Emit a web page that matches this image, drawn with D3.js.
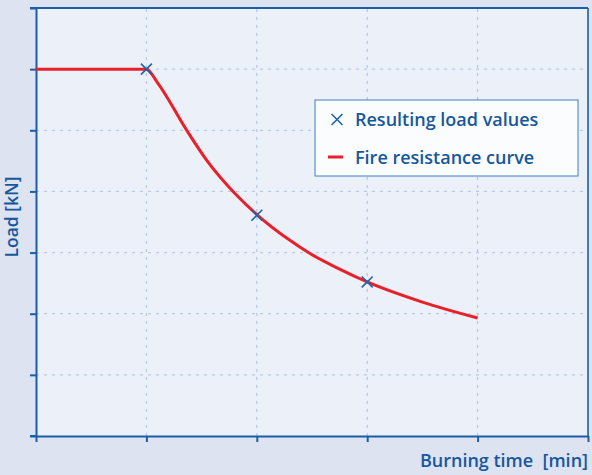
<!DOCTYPE html>
<html>
<head>
<meta charset="utf-8">
<script src="https://cdn.jsdelivr.net/npm/d3@7"></script>
<style>
  body { margin: 0; background: #dde3f0; }
  text { font-family: "Open Sans", "Noto Sans", sans-serif; fill: #16589b; font-weight: 600; }
</style>
</head>
<body>
<svg id="chart" width="592" height="475"></svg>
<script>
// burning time (steps) vs load
const curveX = [0, 1, 1.1, 1.365, 1.55, 1.8, 2.008, 2.3, 2.467, 2.75, 3.0, 3.5, 4.0];
const curveY = [6, 6, 5.78, 5.0, 4.5, 3.97, 3.61, 3.2, 3.0, 2.73, 2.52, 2.19, 1.93];
const markX = [1, 2, 3];
const markY = [6, 3.61, 2.52];
const xTicks = [0, 1, 2, 3, 4, 5];
const yTicks = [0, 1, 2, 3, 4, 5, 6, 7];
const legendNames = ['Resulting load values', 'Fire resistance curve'];

const svg = d3.select('#chart');
const blue = '#1a5fa5';
const x = d3.scaleLinear().domain([0, 5]).range([36, 588]);
const y = d3.scaleLinear().domain([0, 7]).range([436, 8]);

svg.append('rect')
  .attr('width', 592).attr('height', 475).attr('fill', '#dde3f0');
svg.append('rect')
  .attr('x', x(0)).attr('y', y(7))
  .attr('width', x(5) - x(0)).attr('height', y(0) - y(7))
  .attr('fill', '#ecf0f9');

// grid
const grid = svg.append('g')
  .attr('stroke', '#b9c9e6').attr('stroke-width', 1.3).attr('stroke-dasharray', '3,5');
grid.selectAll('.gx')
  .data(xTicks.slice(1, -1))
  .join('line')
    .attr('x1', d => x(d)).attr('x2', d => x(d))
    .attr('y1', y(0)).attr('y2', y(7));
grid.selectAll('.gy')
  .data(yTicks.slice(1, -1))
  .join('line')
    .attr('y1', d => y(d)).attr('y2', d => y(d))
    .attr('x1', x(0)).attr('x2', x(5));

// right border
svg.append('line')
  .attr('x1', x(5)).attr('x2', x(5)).attr('y1', y(7)).attr('y2', y(0))
  .attr('stroke', blue).attr('stroke-width', 1.6);

const xAxis = svg.append('g')
  .attr('transform', `translate(0,${y(0)})`)
  .call(d3.axisBottom(x).tickValues(xTicks).tickFormat('').tickSize(6).tickSizeOuter(0));
const yAxis = svg.append('g')
  .attr('transform', `translate(${x(0)},0)`)
  .call(d3.axisLeft(y).tickValues(yTicks).tickFormat('').tickSize(6).tickSizeOuter(0));
[xAxis, yAxis].forEach(a => {
  a.selectAll('path, line').attr('stroke', blue).attr('stroke-width', 2);
});
// top border, running to the left like a tick
svg.append('line')
  .attr('x1', x(0) - 6).attr('x2', x(5)).attr('y1', y(7)).attr('y2', y(7))
  .attr('stroke', blue).attr('stroke-width', 2);
// bottom axis starts left of y axis
svg.append('line')
  .attr('x1', x(0) - 6).attr('x2', x(0)).attr('y1', y(0)).attr('y2', y(0))
  .attr('stroke', blue).attr('stroke-width', 2);

// curve
const line = d3.line()
  .x(d => x(d[0])).y(d => y(d[1]))
  .curve(d3.curveMonotoneX);
svg.append('path')
  .datum(curveX.map((d, i) => [d, curveY[i]]))
  .attr('d', line)
  .attr('fill', 'none').attr('stroke', '#e8202a').attr('stroke-width', 3);

// markers
const cross = d3.symbol().type(d3.symbolX).size(80);
svg.selectAll('.mark')
  .data(markX.map((d, i) => [d, markY[i]]))
  .join('path')
    .attr('transform', d => `translate(${x(d[0])},${y(d[1])})`)
    .attr('d', cross)
    .attr('fill', 'none').attr('stroke', '#1f64a8').attr('stroke-width', 1.6);

// legend
const lg = svg.append('g').attr('transform', 'translate(315,100)');
lg.append('rect')
  .attr('width', 263).attr('height', 76)
  .attr('fill', '#fbfcfe').attr('stroke', '#3b7fc2').attr('stroke-width', 1);
lg.append('path')
  .attr('transform', 'translate(22,19.5)')
  .attr('d', cross)
  .attr('fill', 'none').attr('stroke', '#1f64a8').attr('stroke-width', 1.6);
lg.append('line')
  .attr('x1', 13).attr('x2', 28).attr('y1', 57).attr('y2', 57)
  .attr('stroke', '#e8202a').attr('stroke-width', 3);
lg.selectAll('.lt')
  .data(legendNames)
  .join('text')
    .attr('x', 40).attr('y', (d, i) => 26 + i * 37.5)
    .attr('font-size', 18)
    .text(d => d);

// axis titles
svg.append('text')
  .attr('x', 588).attr('y', 467)
  .attr('text-anchor', 'end').attr('font-size', 18)
  .style('white-space', 'pre')
  .text('Burning time  [min]');
svg.append('text')
  .attr('transform', 'translate(18,217) rotate(-90)')
  .attr('text-anchor', 'middle').attr('font-size', 17.5)
  .text('Load [kN]');
</script>
</body>
</html>
